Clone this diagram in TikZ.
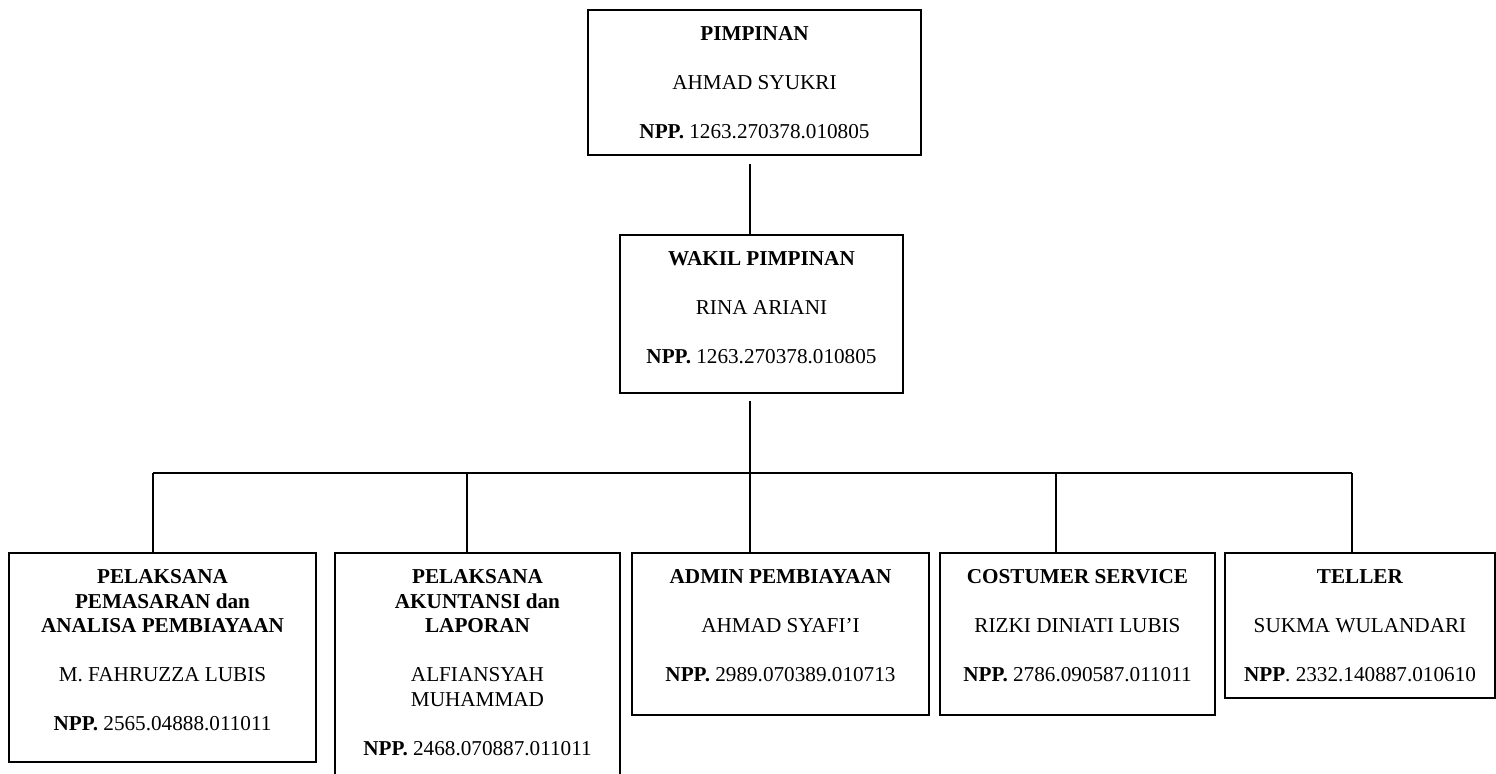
\documentclass[tikz,border=0pt]{standalone}
\usepackage{fontspec}
\setmainfont{Liberation Serif}
\usetikzlibrary{calc}
\newcommand{\orgfs}{\fontsize{10.6}{12.25}\selectfont}
\newcommand{\orggap}{\\[12.25pt]}
\newcommand{\orgtop}{552}
\newcommand{\orgbus}{473}
\newcommand{\orgtrunk}{750}
\tikzset{
  orgbox/.style={draw, line width=0.8pt, align=center, anchor=north,
    inner xsep=0pt, inner ysep=0pt, text height=64.5pt, font=\orgfs},
  orgline/.style={line width=0.7pt}
}

\begin{document}
\begin{tikzpicture}[x=0.5pt,y=-0.5pt]
    \useasboundingbox (0,0) rectangle (1496,774);

    \node (pimpinan) at (754.5,9) [orgbox, minimum width=166.5pt, text depth=8pt]
      {\textbf{PIMPINAN}\orggap AHMAD SYUKRI\orggap \textbf{NPP.} 1263.270378.010805};
    \node (wakil) at (761.5,234) [orgbox, minimum width=141.5pt, text depth=14.5pt]
      {\textbf{WAKIL PIMPINAN}\orggap RINA ARIANI\orggap \textbf{NPP.} 1263.270378.010805};

    \node (b1) at (162.5,\orgtop) [orgbox, minimum width=153.5pt, text height=89pt, text depth=15.5pt]
      {\textbf{PELAKSANA}\\ \textbf{PEMASARAN dan}\\ \textbf{ANALISA PEMBIAYAAN}\orggap
       M. FAHRUZZA LUBIS\orggap \textbf{NPP.} 2565.04888.011011};
    \node (b2) at (477.5,\orgtop) [orgbox, minimum width=142.5pt, text height=101.25pt, text depth=25pt]
      {\textbf{PELAKSANA}\\ \textbf{AKUNTANSI dan}\\ \textbf{LAPORAN}\orggap
       ALFIANSYAH\\ MUHAMMAD\orggap \textbf{NPP.} 2468.070887.011011};
    \node (b3) at (780.5,\orgtop) [orgbox, minimum width=148.5pt, text depth=16.5pt]
      {\textbf{ADMIN PEMBIAYAAN}\orggap AHMAD SYAFI’I\orggap \textbf{NPP.} 2989.070389.010713};
    \node (b4) at (1077.5,\orgtop) [orgbox, minimum width=137.5pt, text depth=16.5pt]
      {\textbf{COSTUMER SERVICE}\orggap RIZKI DINIATI LUBIS\orggap \textbf{NPP.} 2786.090587.011011};
    \node (b5) at (1360,\orgtop) [orgbox, minimum width=135pt, text depth=8pt]
      {\textbf{TELLER}\orggap SUKMA WULANDARI\orggap \textbf{NPP}. 2332.140887.010610};

    % bus and drops
    \coordinate (bus) at (\orgtrunk,\orgbus);
    \coordinate (d1) at (153,\orgbus);
    \coordinate (d2) at (467,\orgbus);
    \coordinate (d3) at (750,\orgbus);
    \coordinate (d4) at (1056,\orgbus);
    \coordinate (d5) at (1352,\orgbus);

    \draw[orgline] ($(pimpinan.south -| bus)+(0,8)$) -- (wakil.north -| bus);
    \draw[orgline] ($(wakil.south -| bus)+(0,7)$) -- (bus);
    \draw[orgline] (d1) -- (d5);
    \foreach \i in {1,...,5}
      \draw[orgline] (d\i) -- (d\i |- b\i.north);
  \end{tikzpicture}
\end{document}
